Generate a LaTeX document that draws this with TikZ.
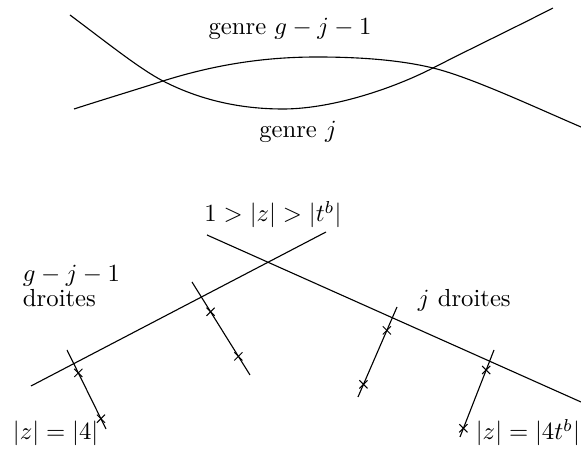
\documentclass[tikz,border=0pt]{standalone}
\usetikzlibrary{calc,shapes.misc}
\begin{document}
\begin{tikzpicture}[x=0.405pt,y=-0.405pt,
  curve/.style={line width=0.45pt},
  ln/.style={line width=0.45pt},
  lbl/.style={inner sep=0pt,outer sep=0pt},
  xmark/.style={cross out,draw,line width=0.4pt,inner sep=0pt,minimum size=2.9pt}]
\useasboundingbox (0,0) rectangle (581,451);
% top: two curves
\coordinate (A0) at (70,15);
\coordinate (X1) at (163,81);
\coordinate (Amin) at (283,109);
\coordinate (X2) at (433,68);
\coordinate (A1) at (553,8);
\coordinate (B0) at (74,109);
\coordinate (Bmax) at (317,57);
\coordinate (B1) at (581,127);
\draw[curve] (A0) .. controls (110,45) and (140,69) .. (X1)
  .. controls (200,100) and (240,109) .. (Amin)
  .. controls (330,109) and (390,90) .. (X2)
  .. controls (470,49) and (510,30) .. (A1);
\draw[curve] (B0) .. controls (105,99) and (135,90) .. (X1)
  .. controls (220,63) and (270,57) .. (Bmax)
  .. controls (360,57) and (400,60) .. (X2)
  .. controls (470,77) and (530,105) .. (B1);
\node[lbl,anchor=base] (g1) at (290,35) {genre $g-j-1$};
\node[lbl,anchor=base] (g2) at (298,138) {genre $j$};
% bottom
\coordinate (La) at (31,386);
\coordinate (Lb) at (326,232);
\coordinate (Ra) at (207,235);
\coordinate (Rb) at (581,402);
\draw[ln] (La) -- (Lb);
\draw[ln] (Ra) -- (Rb);
\coordinate (a1) at (67,350); \coordinate (a2) at (106,429);
\coordinate (b1) at (192,282); \coordinate (b2) at (250,375);
\coordinate (c1) at (397,307); \coordinate (c2) at (358,397);
\coordinate (d1) at (494,350); \coordinate (d2) at (460,437);
\draw[ln] (a1) -- (a2);
\draw[ln] (b1) -- (b2);
\draw[ln] (c1) -- (c2);
\draw[ln] (d1) -- (d2);
\node[xmark] (ma1) at ($(a1)!0.29!(a2)$) {};
\node[xmark] (ma2) at ($(a1)!0.87!(a2)$) {};
\node[xmark] (mb1) at ($(b1)!0.32!(b2)$) {};
\node[xmark] (mb2) at ($(b1)!0.80!(b2)$) {};
\node[xmark] (mc1) at ($(c1)!0.26!(c2)$) {};
\node[xmark] (mc2) at ($(c1)!0.86!(c2)$) {};
\node[xmark] (md1) at ($(d1)!0.23!(d2)$) {};
\node[xmark] (md2) at ($(d1)!0.90!(d2)$) {};
\node[lbl,anchor=base] (t1) at (273,222) {$1>|z|>|t^b|$};
\node[lbl,anchor=base west] (t2) at (23,282) {$g-j-1$};
\node[lbl,anchor=base west] (t3) at (23,307) {droites};
\node[lbl,anchor=base west] (t4) at (418,307) {$j$ droites};
\node[lbl,anchor=base west] (t5) at (13,440) {$|z|=|4|$};
\node[lbl,anchor=base east] (t6) at (580,440) {$|z|=|4t^b|$};
\end{tikzpicture}
\end{document}
